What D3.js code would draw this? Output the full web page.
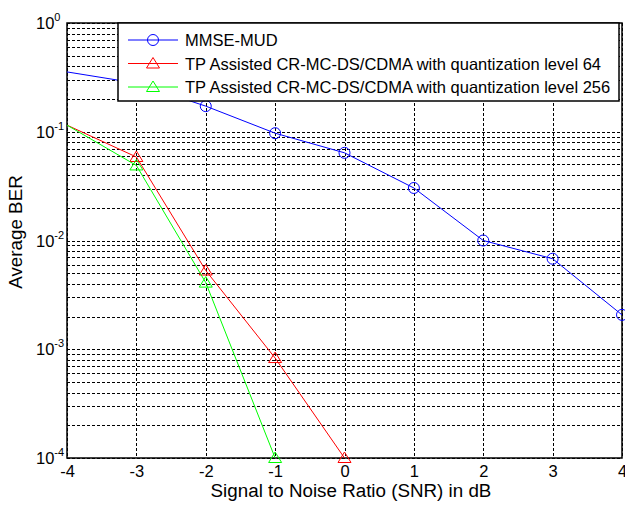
<!DOCTYPE html>
<html>
<head>
<meta charset="utf-8">
<script src="https://cdn.jsdelivr.net/npm/d3@7"></script>
<style>
  body { margin: 0; background: #fff; }
  text { font-family: "Liberation Sans", Arial, Helvetica, sans-serif; fill: #000; }
</style>
</head>
<body>
<div id="chart"></div>
<script>
// data
let snr = [-4, -3, -2, -1, 0, 1, 2, 3, 4];
let mmseBer = [0.355, 0.28, 0.172, 0.097, 0.064, 0.0304, 0.0100, 0.0068, 0.00207];
let snr64 = [-4, -3, -2, -1, 0];
let tp64Ber = [0.115, 0.0586, 0.0053, 0.00083, 0.0001];
let snr256 = [-4, -3, -2, -1];
let tp256Ber = [0.115, 0.049, 0.0041, 0.0001];
let xTicks = [-4, -3, -2, -1, 0, 1, 2, 3, 4];
let yExps = [0, -1, -2, -3, -4];

let series = [
  { name: "MMSE-MUD", x: snr, y: mmseBer, color: "#0000ff", marker: "circle" },
  { name: "TP Assisted CR-MC-DS/CDMA with quantization level 64", x: snr64, y: tp64Ber, color: "#ff0000", marker: "triangle" },
  { name: "TP Assisted CR-MC-DS/CDMA with quantization level 256", x: snr256, y: tp256Ber, color: "#00ff00", marker: "triangle" },
];

let W = 625, H = 510;
let margin = { top: 23, right: 3, bottom: 52, left: 67 };
let width = W - margin.left - margin.right;
let height = H - margin.top - margin.bottom;
let fontTick = 16.5;
let fontLabel = 18.8;

let svg = d3.select("#chart").append("svg").attr("width", W).attr("height", H);
let g = svg.append("g").attr("transform", `translate(${margin.left},${margin.top})`);

let x = d3.scaleLinear().domain([-4, 4]).range([0, width]);
let y = d3.scaleLog().domain([1e-4, 1]).range([height, 0]);

// grid lines (dotted, every decade and its 2..9 sub-steps)
let gridVals = [];
for (let e = -4; e < 0; e++) {
  for (let k = 1; k <= 9; k++) gridVals.push(k * Math.pow(10, e));
}
gridVals.push(1);
g.append("g").selectAll("line")
  .data(gridVals)
  .enter().append("line")
  .attr("x1", 0).attr("x2", width)
  .attr("y1", (d) => Math.round(y(d)) + 0.5).attr("y2", (d) => Math.round(y(d)) + 0.5)
  .attr("stroke", "#000").attr("stroke-width", 1).attr("stroke-dasharray", "3,2");
g.append("g").selectAll("line")
  .data(xTicks)
  .enter().append("line")
  .attr("y1", 0).attr("y2", height)
  .attr("x1", (d) => Math.round(x(d)) + 0.5).attr("x2", (d) => Math.round(x(d)) + 0.5)
  .attr("stroke", "#000").attr("stroke-width", 1).attr("stroke-dasharray", "3,2");

// axes box
g.append("rect").attr("x", 0).attr("y", 0).attr("width", width).attr("height", height)
  .attr("fill", "none").attr("stroke", "#000").attr("stroke-width", 1.5);

// x tick labels (plain hyphen minus like matlab)
let xAxis = d3.axisBottom(x).tickValues(xTicks).tickSize(0).tickPadding(7)
  .tickFormat((d) => String(d));
let xg = g.append("g").attr("transform", `translate(0,${height})`).call(xAxis);
xg.select(".domain").remove();
xg.selectAll("text").attr("font-size", fontTick).style("font-family", "'Liberation Sans', Arial, sans-serif");

// y tick labels: 10 with superscript exponent
let yl = g.append("g").selectAll("text").data(yExps).enter().append("text")
  .attr("y", (d) => y(Math.pow(10, d)) + 6)
  .attr("font-size", fontTick);
yl.append("tspan").attr("x", -31).text("10");
yl.append("tspan").attr("dy", -8).attr("font-size", 11).text((d) => String(d));

// lines and markers (first point of each curve sits on the axis edge without a marker)
let line = d3.line().x((d) => x(d[0])).y((d) => y(d[1]));
series.forEach((s) => {
  let pts = s.x.map((v, i) => [v, s.y[i]]);
  g.append("path").datum(pts).attr("d", line)
    .attr("fill", "none").attr("stroke", s.color).attr("stroke-width", 1);
  drawMarkers(g, pts.slice(1).map((p) => [x(p[0]), y(p[1])]), s);
});

function drawMarkers(parent, pts, s) {
  if (s.marker === "circle") {
    parent.selectAll(null).data(pts).enter().append("circle")
      .attr("cx", (d) => d[0]).attr("cy", (d) => d[1]).attr("r", 5.5)
      .attr("fill", "none").attr("stroke", s.color).attr("stroke-width", 1);
  } else {
    parent.selectAll(null).data(pts).enter().append("path")
      .attr("d", (d) => `M${d[0]},${d[1] - 6}L${d[0] + 6.5},${d[1] + 4.5}L${d[0] - 6.5},${d[1] + 4.5}Z`)
      .attr("fill", "none").attr("stroke", s.color).attr("stroke-width", 1);
  }
}

// legend
let leg = g.append("g").attr("transform", `translate(${118 - margin.left},0)`);
leg.append("rect").attr("x", 0).attr("y", 0).attr("width", 501).attr("height", 78)
  .attr("fill", "#fff").attr("stroke", "#000").attr("stroke-width", 1.5);
series.forEach((s, i) => {
  let ly = 17 + i * 23.5;
  leg.append("line").attr("x1", 10).attr("x2", 60).attr("y1", ly).attr("y2", ly)
    .attr("stroke", s.color).attr("stroke-width", 1);
  drawMarkers(leg, [[35, ly]], s);
  leg.append("text").attr("x", 67).attr("y", ly + 6).attr("font-size", fontTick).text(s.name);
});

// axis titles
svg.append("text").attr("x", 351).attr("y", 497)
  .attr("text-anchor", "middle").attr("font-size", fontLabel).text("Signal to Noise Ratio (SNR) in dB");
svg.append("text").attr("transform", `translate(22,232) rotate(-90)`)
  .attr("text-anchor", "middle").attr("font-size", fontLabel).text("Average BER");
</script>
</body>
</html>
